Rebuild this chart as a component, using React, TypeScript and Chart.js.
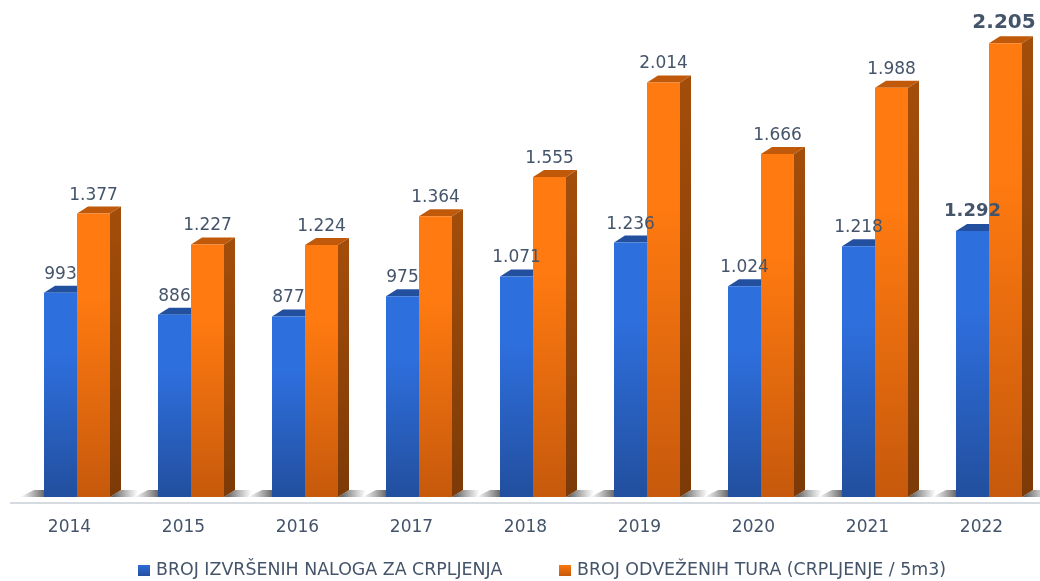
import React, { useEffect, useRef } from "react";
import { Chart, registerables } from "chart.js";

Chart.register(...registerables);

const years = ["2014", "2015", "2016", "2017", "2018", "2019", "2020", "2021", "2022"];
const nalozi = [993, 886, 877, 975, 1071, 1236, 1024, 1218, 1292];
const ture = [1377, 1227, 1224, 1364, 1555, 2014, 1666, 1988, 2205];
const seriesNames = ["BROJ IZVRŠENIH NALOGA ZA CRPLJENJA", "BROJ ODVEŽENIH TURA (CRPLJENJE / 5m3)"];

const FONT = '"DejaVu Sans"';
const TEXT = "#44546a";
const DX = 11;
const DY = 7;
const FACES = [
  { grad: ["#2e6fde", "#224f9e"], top: "#224f9e", side: ["#1c4386", "#173669"] },
  { grad: ["#ff7a10", "#c6590c"], top: "#c05a0a", side: ["#a34d0a", "#7c3a07"] },
];

const fmt = (v: number) => String(v).replace(/\B(?=(\d{3})+$)/, ".");

const barGradient = (ctx: any, i: number) => {
  const chart = ctx.chart;
  if (!chart.chartArea || ctx.raw === undefined) return FACES[i].grad[0];
  const y = chart.scales.y;
  const g = chart.ctx.createLinearGradient(0, y.getPixelForValue(ctx.raw), 0, y.getPixelForValue(0));
  g.addColorStop(0, FACES[i].grad[0]);
  g.addColorStop(0.3, FACES[i].grad[0]);
  g.addColorStop(1, FACES[i].grad[1]);
  return g;
};

const drawFaces = (chart: any, index: number) => {
  const c = chart.ctx;
  const f = FACES[index];
  const base = chart.scales.y.getPixelForValue(0);
  c.save();
  chart.getDatasetMeta(index).data.forEach((b: any) => {
    const l = b.x - b.width / 2;
    const r = b.x + b.width / 2;
    c.fillStyle = f.top;
    c.beginPath();
    c.moveTo(l, b.y);
    c.lineTo(l + DX, b.y - DY);
    c.lineTo(r + DX, b.y - DY);
    c.lineTo(r, b.y);
    c.closePath();
    c.fill();
    const g = c.createLinearGradient(0, b.y, 0, base);
    g.addColorStop(0, f.side[0]);
    g.addColorStop(1, f.side[1]);
    c.fillStyle = g;
    c.beginPath();
    c.moveTo(r, b.y);
    c.lineTo(r + DX, b.y - DY);
    c.lineTo(r + DX, base - DY);
    c.lineTo(r, base);
    c.closePath();
    c.fill();
  });
  c.restore();
};

const depthPlugin = {
  id: "depth",
  beforeDatasetsDraw(chart: any) {
    const c = chart.ctx;
    const base = chart.scales.y.getPixelForValue(0);
    const first = chart.getDatasetMeta(0).data;
    const second = chart.getDatasetMeta(1).data;
    c.save();
    first.forEach((b: any, i: number) => {
      const left = b.x - b.width / 2;
      const right = second[i].x + second[i].width / 2;
      let g = c.createLinearGradient(left - 24, 0, left, 0);
      g.addColorStop(0, "rgba(130,130,130,0)");
      g.addColorStop(1, "rgba(105,105,105,1)");
      c.fillStyle = g;
      c.beginPath();
      c.moveTo(left - 24, base);
      c.lineTo(left, base);
      c.lineTo(left, base - 7);
      c.lineTo(left - 10, base - 7);
      c.closePath();
      c.fill();
      g = c.createLinearGradient(right + 4, 0, right + 28, 0);
      g.addColorStop(0, "rgba(105,105,105,1)");
      g.addColorStop(1, "rgba(130,130,130,0)");
      c.fillStyle = g;
      c.beginPath();
      c.moveTo(right, base);
      c.lineTo(right + DX, base - 7);
      c.lineTo(right + 30, base - 7);
      c.lineTo(right + 24, base);
      c.closePath();
      c.fill();
    });
    c.strokeStyle = "#d6dbe1";
    c.lineWidth = 2;
    c.beginPath();
    c.moveTo(10, chart.chartArea.bottom);
    c.lineTo(chart.chartArea.left, chart.chartArea.bottom);
    c.stroke();
    c.restore();
    // Chart.js paints the last dataset first, so the blue faces go down before any bar.
    drawFaces(chart, 0);
    drawFaces(chart, 1);
  },
  afterDatasetsDraw(chart: any) {
    const c = chart.ctx;
    c.save();
    c.fillStyle = TEXT;
    c.textAlign = "center";
    c.textBaseline = "middle";
    chart.data.datasets.forEach((ds: any, d: number) => {
      chart.getDatasetMeta(d).data.forEach((b: any, i: number) => {
        const last = i === ds.data.length - 1;
        const size = last ? (d === 1 ? 20 : 18) : 17;
        c.font = `${last ? "bold " : ""}${size}px ${FONT}`;
        c.fillText(fmt(ds.data[i]), last && d === 1 ? b.x - 1.5 : b.x, b.y - (last ? 20 : 18.5));
      });
    });
    // legend
    const y = 570;
    const items = [
      { box: 138, text: 156 },
      { box: 559, text: 577 },
    ];
    c.font = `17.4px ${FONT}`;
    c.textAlign = "left";
    chart.data.datasets.forEach((ds: any, d: number) => {
      const g = c.createLinearGradient(0, y - 6, 0, y + 6);
      g.addColorStop(0, FACES[d].grad[0]);
      g.addColorStop(1, FACES[d].grad[1]);
      c.fillStyle = g;
      c.fillRect(items[d].box, y - 5, 12, 11);
      c.fillStyle = TEXT;
      c.fillText(ds.label, items[d].text, y);
    });
    c.restore();
  },
};

export default function App() {
  const ref = useRef<HTMLCanvasElement>(null);
  useEffect(() => {
    if (!ref.current) return;
    const chart = new Chart(ref.current, {
      type: "bar",
      data: {
        labels: years,
        datasets: [
          { label: seriesNames[0], data: nalozi, backgroundColor: (ctx: any) => barGradient(ctx, 0) },
          { label: seriesNames[1], data: ture, backgroundColor: (ctx: any) => barGradient(ctx, 1) },
        ],
      },
      options: {
        responsive: false,
        animation: false,
        layout: { padding: { left: 20, right: 14, top: 3, bottom: 38 } },
        datasets: { bar: { categoryPercentage: 0.579, barPercentage: 1 } },
        plugins: { legend: { display: false }, tooltip: { enabled: false } },
        scales: {
          x: {
            grid: { display: false, drawTicks: false },
            border: { display: true, color: "#d6dbe1", width: 2 },
            ticks: { color: TEXT, font: { family: FONT, size: 17 }, padding: 14, maxRotation: 0, labelOffset: -7.5 },
            afterFit: (s: any) => { s.height = 40; },
          },
          y: { display: false, min: -29, max: 2400 },
        },
      },
      plugins: [depthPlugin],
    } as any);
    return () => chart.destroy();
  }, []);
  return (
    <div style={{ position: "fixed", left: 0, top: 0, width: 1040, height: 581, overflow: "hidden", background: "#fff" }}>
      <canvas ref={ref} width={1060} height={581} style={{ display: "block" }} />
    </div>
  );
}
